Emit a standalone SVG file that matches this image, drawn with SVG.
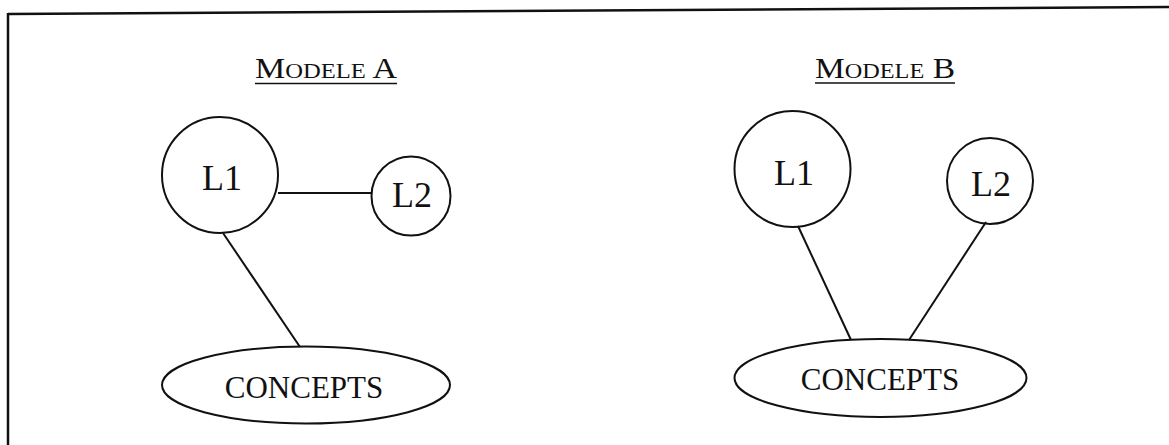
<svg xmlns="http://www.w3.org/2000/svg" width="1169" height="445" viewBox="0 0 1169 445">
<style>
.shape{fill:none;stroke:#111;stroke-width:2}
.edge{stroke:#111;stroke-width:2;fill:none}
.lbl{font-family:"Liberation Serif","Times New Roman",serif;fill:#111;text-anchor:middle}
.title{font-family:"Liberation Serif","Times New Roman",serif;fill:#111}
.ul{stroke:#111;stroke-width:1.5}
</style>
<rect width="1169" height="445" fill="#fff"/>
<g id="frame">
<line x1="8" y1="14" x2="1169" y2="7" stroke="#111" stroke-width="2.5"/>
<line x1="8" y1="13" x2="8" y2="445" stroke="#111" stroke-width="2.5"/>
</g>
<g id="titleA">
<text class="title" x="255" y="78" font-size="29" textLength="142" lengthAdjust="spacingAndGlyphs">M<tspan font-size="21">ODELE</tspan> A</text>
<line class="ul" x1="255" y1="83.5" x2="397" y2="83.5"/>
</g>
<g id="titleB">
<text class="title" x="815" y="78" font-size="29" textLength="140" lengthAdjust="spacingAndGlyphs">M<tspan font-size="21">ODELE</tspan> B</text>
<line class="ul" x1="815" y1="83" x2="955" y2="83"/>
</g>
<g id="connectors">
<line class="edge" x1="278" y1="193" x2="372" y2="193"/>
<line class="edge" x1="223" y1="233" x2="300" y2="347"/>
<line class="edge" x1="798" y1="226" x2="851" y2="340"/>
<line class="edge" x1="986" y1="222" x2="909" y2="340"/>
</g>
<g id="A-L1">
<circle class="shape" cx="220" cy="175" r="58"/>
<text class="lbl" x="222" y="190" font-size="36">L1</text>
</g>
<g id="A-L2">
<circle class="shape" cx="411" cy="196" r="39.5"/>
<text class="lbl" x="412" y="207" font-size="36">L2</text>
</g>
<g id="A-CONCEPTS">
<ellipse class="shape" cx="306" cy="385" rx="144" ry="38.5"/>
<text class="lbl" x="304" y="398" font-size="31">CONCEPTS</text>
</g>
<g id="B-L1">
<circle class="shape" cx="792.5" cy="169" r="58"/>
<text class="lbl" x="794" y="185" font-size="36">L1</text>
</g>
<g id="B-L2">
<circle class="shape" cx="990" cy="181" r="43"/>
<text class="lbl" x="991" y="196" font-size="36">L2</text>
</g>
<g id="B-CONCEPTS">
<ellipse class="shape" cx="880.5" cy="378" rx="146" ry="39"/>
<text class="lbl" x="880" y="390" font-size="31">CONCEPTS</text>
</g>
</svg>
